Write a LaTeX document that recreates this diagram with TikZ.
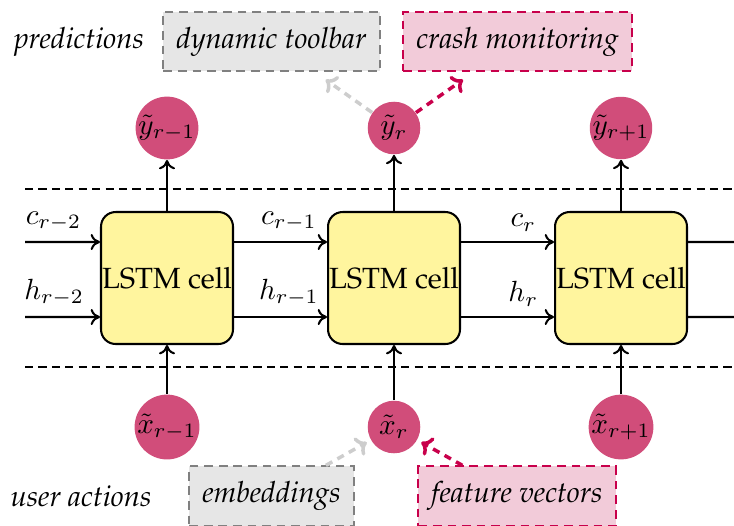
\documentclass[tikz,border=0pt]{standalone}
\usepackage[T1]{fontenc}
\usepackage{palatino}
\usetikzlibrary{arrows.meta}
\definecolor{cellyellow}{RGB}{255,245,158}
\definecolor{nodepink}{RGB}{209,77,122}
\definecolor{boxgrayline}{RGB}{128,128,128}
\definecolor{boxgrayfill}{RGB}{230,230,230}
\definecolor{magline}{RGB}{200,0,75}
\definecolor{magfill}{RGB}{242,203,217}
\definecolor{lightarrow}{RGB}{205,205,205}
\tikzset{
  cellbox/.style={draw, line width=0.7pt, fill=cellyellow, rounded corners=5pt,
    minimum width=45.2pt, minimum height=45.2pt, inner sep=0pt},
  dotnode/.style={circle, fill=nodepink, inner sep=0pt, minimum size=18pt},
  graybox/.style={draw=boxgrayline, dash pattern=on 3pt off 2pt, fill=boxgrayfill,
    line width=0.7pt, minimum height=20.3pt, inner xsep=4.5pt},
  magbox/.style={draw=magline, dash pattern=on 3pt off 2pt, fill=magfill,
    line width=0.7pt, minimum height=20.3pt, inner xsep=4.5pt},
  flow/.style={line width=0.7pt, -{To[length=3.2pt,width=5.5pt]}},
  plainflow/.style={line width=0.7pt},
  sepline/.style={line width=0.7pt, dash pattern=on 2.8pt off 1.8pt},
  garrow/.style={draw=lightarrow, line width=1.2pt, dash pattern=on 2.5pt off 2pt,
    -{To[length=3.5pt,width=7pt]}},
  parrow/.style={draw=magline, line width=1.2pt, dash pattern=on 2.5pt off 2pt,
    -{To[length=3.5pt,width=7pt]}},
  lab/.style={above}
}
\begin{document}
\begin{tikzpicture}[x=0.3425pt, y=-0.3425pt]
\useasboundingbox (0,0) rectangle (734,525);

% separator lines
\draw[sepline] (25,189) -- (734,189);
\draw[sepline] (25,367) -- (734,367);

% cells
\node[cellbox] (c1) at (167,278) {LSTM cell};
\node[cellbox] (c2) at (394,278) {LSTM cell};
\node[cellbox] (c3) at (621,278) {LSTM cell};

% outputs and inputs
\node[dotnode] (y1) at (167,128) {$\tilde{y}_{r-1}$};
\node[dotnode] (y2) at (394,128) {$\tilde{y}_{r}$};
\node[dotnode] (y3) at (621,128) {$\tilde{y}_{r+1}$};
\node[dotnode] (x1) at (167,427) {$\tilde{x}_{r-1}$};
\node[dotnode] (x2) at (394,427) {$\tilde{x}_{r}$};
\node[dotnode] (x3) at (621,427) {$\tilde{x}_{r+1}$};

% boxes
\node[graybox] (tb) at (271.5,41.5) {\textit{dynamic toolbar}};
\node[magbox] (cm) at (517.5,41.5) {\textit{crash monitoring}};
\node[graybox] (emb) at (271.5,496) {\textit{embeddings}};
\node[magbox] (fv) at (517,496) {\textit{feature vectors}};

\node (pred) at (79,42) {\textit{predictions}};
\node (ua) at (81,496) {\textit{user actions}};

% free ends
\coordinate (cin) at (25,242);
\coordinate (hin) at (25,317);
\coordinate (cout) at (734,242);
\coordinate (hout) at (734,317);

% state connectors
\draw[flow] (cin) -- ([yshift=12.33pt]c1.west) node[lab, pos=0.38] {$c_{r-2}$};
\draw[flow] (hin) -- ([yshift=-13.36pt]c1.west) node[lab, pos=0.39] {$h_{r-2}$};
\draw[flow] ([yshift=12.33pt]c1.east) -- ([yshift=12.33pt]c2.west) node[lab, pos=0.59] {$c_{r-1}$};
\draw[flow] ([yshift=-13.36pt]c1.east) -- ([yshift=-13.36pt]c2.west) node[lab, pos=0.59] {$h_{r-1}$};
\draw[flow] ([yshift=12.33pt]c2.east) -- ([yshift=12.33pt]c3.west) node[lab, pos=0.67] {$c_{r}$};
\draw[flow] ([yshift=-13.36pt]c2.east) -- ([yshift=-13.36pt]c3.west) node[lab, pos=0.67] {$h_{r}$};
\draw[plainflow] ([yshift=12.33pt]c3.east) -- (cout);
\draw[plainflow] ([yshift=-13.36pt]c3.east) -- (hout);

% vertical connectors
\draw[flow] (c1) -- (y1);
\draw[flow] (c2) -- (y2);
\draw[flow] (c3) -- (y3);
\draw[flow] (x1) -- (c1);
\draw[flow] (x2) -- (c2);
\draw[flow] (x3) -- (c3);

% usage arrows
\draw[garrow, shorten >=4.5pt] (y2) -- (tb);
\draw[parrow, shorten >=4.5pt] (y2) -- (cm);
\draw[garrow, shorten >=1.5pt] (emb) -- (x2);
\draw[parrow, shorten >=1.5pt] (fv) -- (x2);
\end{tikzpicture}
\end{document}
